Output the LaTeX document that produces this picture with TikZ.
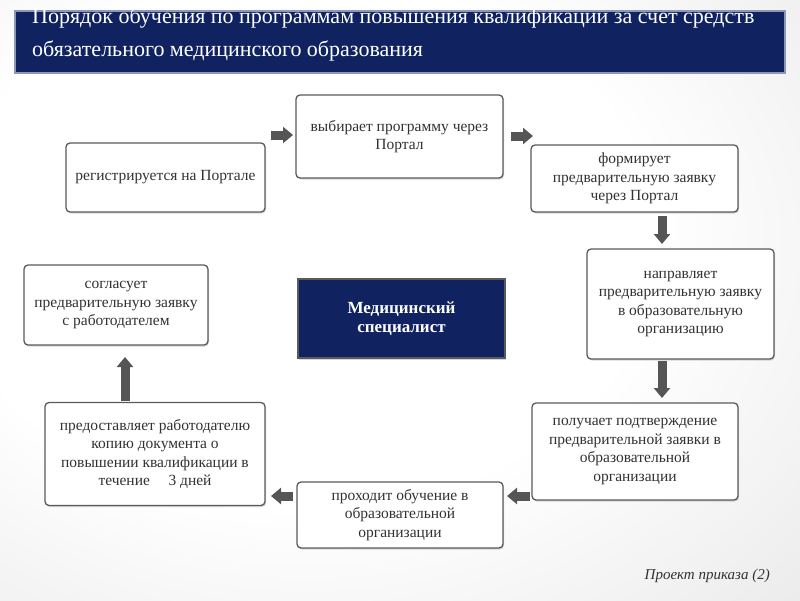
\documentclass[tikz,border=0pt]{standalone}
\usepackage{fontspec}
\setmainfont{Liberation Serif}
\usetikzlibrary{arrows.meta,shadows}
\definecolor{navy}{RGB}{16,34,96}
\definecolor{navyline}{RGB}{140,152,185}
\definecolor{boxline}{RGB}{90,90,90}
\definecolor{arrowgray}{RGB}{85,85,85}
\definecolor{txt}{RGB}{50,50,50}
\pgfdeclareradialshading{bgshade}{\pgfpoint{-8bp}{6bp}}{color(0bp)=(white); color(22bp)=(white); color(50bp)=(black!11); color(100bp)=(black!16)}
\begin{document}
\begin{tikzpicture}[x=1pt,y=-1pt,
  stepbox/.style={draw=boxline, line width=1.3pt, rounded corners=4pt, fill=white,
    align=center, text=txt, font=\fontsize{15.5}{18.5}\selectfont, inner sep=0pt,
    drop shadow={shadow xshift=1pt,shadow yshift=-1.5pt,opacity=0.3}},
  blockarrow/.style={draw=arrowgray, line width=9pt, -{Triangle[length=10pt,width=16pt]}}]
\useasboundingbox (0,0) rectangle (800,600);
\shade[shading=bgshade] (0,0) rectangle (800,600);
% title
\node[draw=navyline, line width=1.5pt, fill=navy, minimum width=770pt, minimum height=62pt,
  inner sep=0pt] (title) at (400,42) {};
\node[anchor=west, text=white, font=\fontsize{22}{33}\selectfont, align=left, inner sep=0pt]
  (titletext) at (32,34) {Порядок обучения по программам повышения квалификации за счет средств\\
  обязательного медицинского образования};
% boxes
\node[stepbox, minimum width=199pt, minimum height=69pt] (b1) at (165.5,177.5) {регистрируется на Портале};
\node[stepbox, minimum width=207pt, minimum height=83pt] (b2) at (399.5,136.5) {выбирает программу через\\Портал};
\node[stepbox, minimum width=207pt, minimum height=67pt] (b3) at (634.5,178.5) {формирует\\предварительную заявку\\через Портал};
\node[stepbox, minimum width=187pt, minimum height=110pt] (b4) at (680.5,304) {направляет\\предварительную заявку\\в образовательную\\организацию};
\node[stepbox, minimum width=206pt, minimum height=97pt] (b5) at (635,451.5) {получает подтверждение\\предварительной заявки в\\образовательной\\организации};
\node[stepbox, minimum width=206pt, minimum height=66pt] (b6) at (400,515) {проходит обучение в\\образовательной\\организации};
\node[stepbox, minimum width=220pt, minimum height=103pt] (b7) at (155,454) {предоставляет работодателю\\копию документа о\\повышении квалификации в\\течение\hspace{1.2em}3 дней};
\node[stepbox, minimum width=184pt, minimum height=80pt] (b8) at (116,305) {согласует\\предварительную заявку\\с работодателем};
\node[draw=boxline, line width=1.3pt, fill=navy, minimum width=207pt, minimum height=79pt,
  inner sep=0pt, align=center, text=white, font=\fontsize{17}{19.5}\selectfont\bfseries,
  drop shadow={shadow xshift=1pt,shadow yshift=-1.5pt,opacity=0.3}] (center) at (401.5,318.5) {Медицинский\\специалист};
% arrows
\coordinate (a1s) at (271,135); \coordinate (a1e) at (293,135);
\coordinate (a2s) at (511,136); \coordinate (a2e) at (533,136);
\coordinate (a3s) at (662,216); \coordinate (a3e) at (662,244);
\coordinate (a4s) at (662,361); \coordinate (a4e) at (662,398);
\coordinate (a5s) at (530,496); \coordinate (a5e) at (507,496);
\coordinate (a6s) at (293,496); \coordinate (a6e) at (271,496);
\coordinate (a7s) at (125,401); \coordinate (a7e) at (125,357);
\draw[blockarrow] (a1s) -- (a1e);
\draw[blockarrow] (a2s) -- (a2e);
\draw[blockarrow] (a3s) -- (a3e);
\draw[blockarrow] (a4s) -- (a4e);
\draw[blockarrow] (a5s) -- (a5e);
\draw[blockarrow] (a6s) -- (a6e);
\draw[blockarrow] (a7s) -- (a7e);
% footer
\node[anchor=east, text=txt, font=\fontsize{15}{17}\selectfont\itshape, inner sep=0pt] (footer) at (770,576) {Проект приказа (2)};
\end{tikzpicture}
\end{document}
